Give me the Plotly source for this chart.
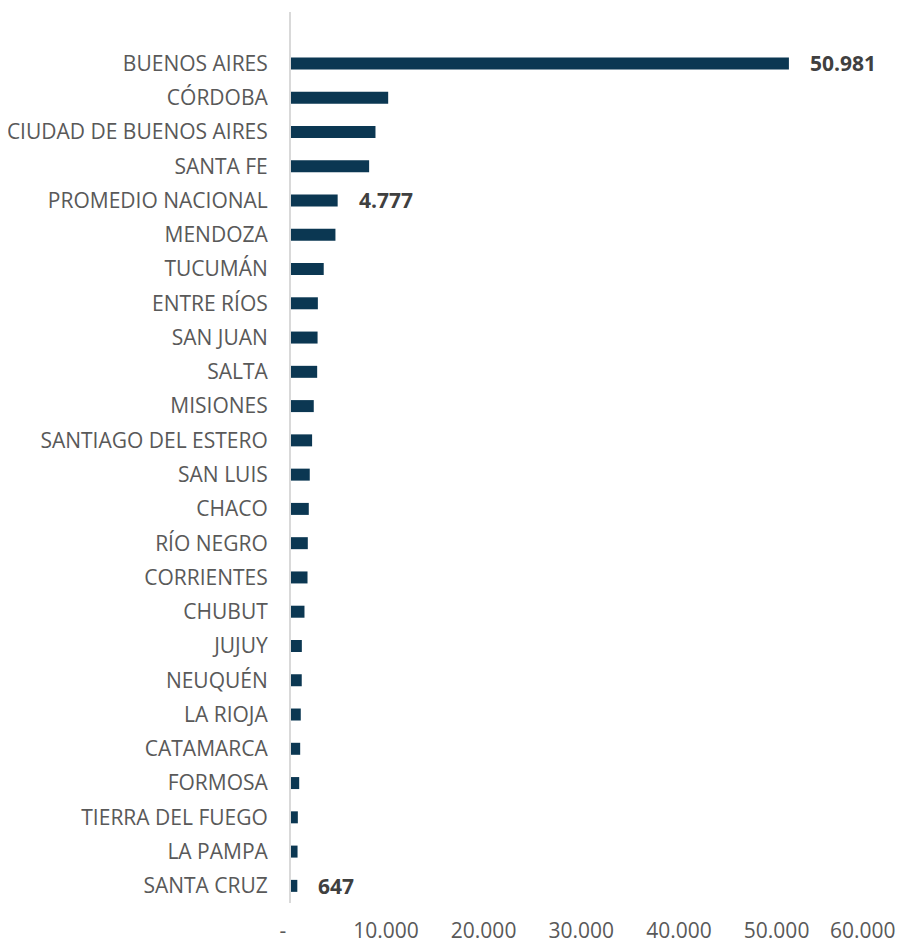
import plotly.graph_objects as go

provinces = [
    "BUENOS AIRES", "CÓRDOBA", "CIUDAD DE BUENOS AIRES", "SANTA FE",
    "PROMEDIO NACIONAL", "MENDOZA", "TUCUMÁN", "ENTRE RÍOS", "SAN JUAN",
    "SALTA", "MISIONES", "SANTIAGO DEL ESTERO", "SAN LUIS", "CHACO",
    "RÍO NEGRO", "CORRIENTES", "CHUBUT", "JUJUY", "NEUQUÉN", "LA RIOJA",
    "CATAMARCA", "FORMOSA", "TIERRA DEL FUEGO", "LA PAMPA", "SANTA CRUZ",
]
values = [
    50981, 9950, 8650, 8000,
    4777, 4550, 3350, 2750, 2720,
    2680, 2330, 2160, 1920, 1820,
    1720, 1690, 1380, 1110, 1100, 1000,
    940, 840, 700, 670, 647,
]
labeled = ["BUENOS AIRES", "PROMEDIO NACIONAL", "SANTA CRUZ"]

tick_values = [0, 10000, 20000, 30000, 40000, 50000, 60000]
tick_labels = ["-", "10.000", "20.000", "30.000", "40.000", "50.000", "60.000"]

FONT = "Open Sans"
BAR_COLOR = "#0B3752"
FS = 21
AXIS_TEXT = "#595959"

fig = go.Figure(
    go.Bar(
        x=values,
        y=provinces,
        orientation="h",
        marker=dict(color=BAR_COLOR, line=dict(width=0)),
        hoverinfo="x+y",
    )
)

for p, v in zip(provinces, values):
    if p in labeled:
        fig.add_annotation(
            x=v, y=p, xref="x", yref="y",
            text=f"<b>{v:,}</b>".replace(",", "."),
            showarrow=False, xanchor="left", yanchor="middle",
            xshift=19,
            font=dict(family=FONT, size=FS, color="#404040"),
        )

# Excel-style padded tick labels; the last one is pulled inside the chart edge
pad = "\u00a0"
shown_ticks = [tick_labels[0] + pad * 3] + [t + pad for t in tick_labels[1:-1]] + [""]
fig.add_annotation(
    x=tick_values[-1], y=0, xref="x", yref="paper",
    text=tick_labels[-1], showarrow=False,
    xanchor="right", yanchor="middle", xshift=21, yshift=-27,
    font=dict(family=FONT, size=FS, color=AXIS_TEXT),
)

n = len(provinces)
fig.update_layout(
    width=899,
    height=935,
    margin=dict(l=283, r=30, t=4, b=40),
    paper_bgcolor="white",
    plot_bgcolor="white",
    bargap=0.65,
    showlegend=False,
    font=dict(family=FONT, size=FS, color=AXIS_TEXT),
    xaxis=dict(
        range=[0, 60000],
        tickvals=tick_values,
        ticktext=shown_ticks,
        showgrid=False,
        zeroline=False,
        showline=False,
        ticks="",
        automargin=False,
        ticklabeloverflow="allow",
        ticklabelstandoff=13,
        tickfont=dict(family=FONT, size=FS, color=AXIS_TEXT),
    ),
    yaxis=dict(
        categoryorder="array",
        categoryarray=provinces,
        range=[n - 0.5, -1.5],
        showgrid=False,
        zeroline=False,
        showline=True,
        linecolor="#D9D9D9",
        linewidth=2,
        ticks="",
        automargin=False,
        ticklabelstandoff=17,
        tickfont=dict(family=FONT, size=FS, color=AXIS_TEXT),
    ),
)

fig.write_html("out.html")
